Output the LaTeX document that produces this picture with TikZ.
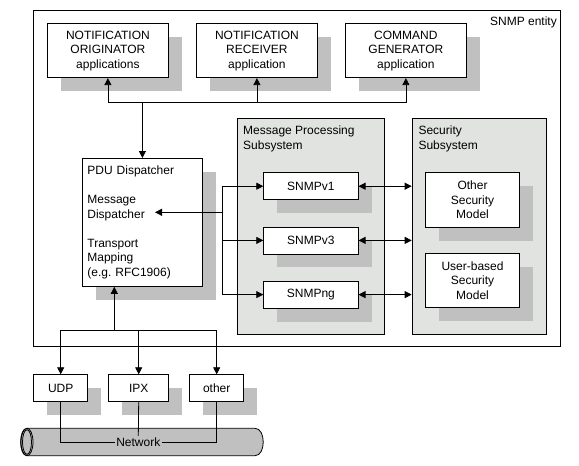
\documentclass[tikz,border=0pt]{standalone}
\usepackage{fontspec}
\setmainfont{Liberation Sans}
\usetikzlibrary{arrows.meta,shadows}

\definecolor{shadowgray}{HTML}{C0C0C0}
\definecolor{subgray}{HTML}{E0E3E0}

\tikzset{
  app/.style={draw, fill=white, line width=0.8pt, anchor=north west, inner sep=2pt, align=center,
    drop shadow={shadow xshift=13.5pt, shadow yshift=-13.5pt, fill=shadowgray, opacity=1}},
  subsys/.style={draw, fill=subgray, line width=0.8pt, anchor=north west, inner sep=0pt},
  caption/.style={anchor=north west, inner sep=0pt, align=left},
  line/.style={line width=0.8pt},
  arr/.style={line, -{Triangle[length=7pt,width=7pt]}},
  dblarr/.style={line, {Triangle[length=7pt,width=7pt]}-{Triangle[length=7pt,width=7pt]}},
}

\begin{document}
\begin{tikzpicture}[x=1pt, y=-1pt, font=\fontsize{12}{14.5}\selectfont]
    \fill[white] (0,0) rectangle (579,466);
    \useasboundingbox (0,0) rectangle (579,466);

    % SNMP entity frame
    \draw[line] (33.3,10) rectangle (560,346.7);
    \node[anchor=north east, inner sep=0pt] (entity) at (557,16.5) {SNMP entity};

    % applications
    \node[app, minimum width=121pt, minimum height=54pt] (orig) at (47,23.3) {NOTIFICATION\\ORIGINATOR\\applications};
    \node[app, minimum width=121pt, minimum height=54pt] (recv) at (196,23.3) {NOTIFICATION\\RECEIVER\\application};
    \node[app, minimum width=121pt, minimum height=54pt] (cmd) at (345,23.3) {COMMAND\\GENERATOR\\application};

    % dispatcher
    \node[app, align=left, inner sep=5pt, text width=110pt, minimum height=128pt] (pdu) at (82,158)
        {PDU Dispatcher\\[14.5pt]Message\\Dispatcher\\[14.5pt]Transport\\Mapping\\(e.g.\ RFC1906)};

    % subsystems
    \node[subsys, minimum width=147.6pt, minimum height=215.7pt] (mps) at (236.7,118.3) {};
    \node[caption] (mpscap) at (243,126) {Message Processing\\Subsystem};
    \node[subsys, minimum width=134.3pt, minimum height=215.7pt] (sec) at (411.7,118.3) {};
    \node[caption] (seccap) at (418.3,126) {Security\\Subsystem};

    \node[app, minimum width=94.4pt, minimum height=27pt] (v1) at (263.3,172.3) {SNMPv1};
    \node[app, minimum width=94.4pt, minimum height=27pt] (v3) at (263.3,226.5) {SNMPv3};
    \node[app, minimum width=94.4pt, minimum height=27pt] (ng) at (263.3,280.7) {SNMPng};

    \node[app, minimum width=94.3pt, minimum height=54.4pt] (osm) at (425,172.3) {Other\\Security\\Model};
    \node[app, minimum width=94.3pt, minimum height=54pt] (usm) at (425,253.3) {User-based\\Security\\Model};

    % transports
    \node[app, minimum width=54pt, minimum height=26.7pt] (udp) at (33.3,374.3) {UDP};
    \node[app, minimum width=60pt, minimum height=26.7pt] (ipx) at (108.3,374.3) {IPX};
    \node[app, minimum width=54pt, minimum height=26.7pt] (othr) at (189.3,374.3) {other};

    % application bus
    \coordinate (bus) at (141.7,102.7);
    \draw[line] (orig.south |- bus) -- (cmd.south |- bus);
    \foreach \n in {orig,recv,cmd}
        \draw[arr] (\n.south |- bus) -- (\n.south);
    \draw[arr] (pdu.north |- bus) -- (pdu.north);

    % message processing fork
    \coordinate (fork) at (222.3,212.3);
    \coordinate (md) at (155,212.3);
    \draw[arr] (fork) -- (md);
    \draw[line] (fork |- v1.west) -- (fork |- ng.west);
    \foreach \n in {v1,v3,ng}
        \draw[arr] (fork |- \n.west) -- (\n.west);
    \foreach \n in {v1,v3,ng}
        \draw[dblarr] (\n.east) -- (\n.east -| sec.west);

    % transport bus
    \coordinate (tbus) at (114.3,330);
    \draw[arr] (tbus) -- (tbus |- pdu.south);
    \draw[line] (udp.north |- tbus) -- (othr.north |- tbus);
    \foreach \n in {udp,ipx,othr}
        \draw[arr] (\n.north |- tbus) -- (\n.north);

    % network pipe
    \filldraw[line, fill=shadowgray] (27,428.3) -- (255,428.3) .. controls (266,428.3) and (266,455.7) .. (255,455.7)
        -- (27,455.7) .. controls (18.5,455.7) and (18.5,428.3) .. (27,428.3) -- cycle;
    \draw[line] (27,442) ellipse [x radius=6pt, y radius=13.7pt];
    \draw[line] (27,442) ellipse [x radius=4.5pt, y radius=12.3pt];
    \node[fill=shadowgray, inner sep=1.5pt] (net) at (138.3,442) {Network};
    \draw[line] (udp.south) |- (net.west);
    \draw[line] (othr.south) |- (net.east);
    \draw[line] (ipx.south) -- (net.north);
\end{tikzpicture}
\end{document}
